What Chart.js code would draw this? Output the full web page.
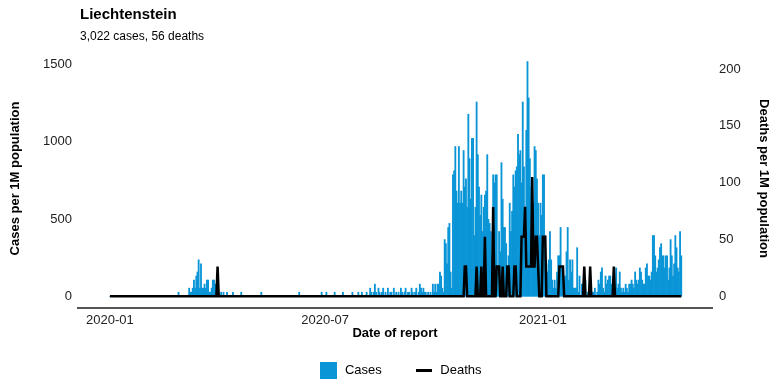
<!DOCTYPE html>
<html>
<head>
<meta charset="utf-8">
<script src="https://cdn.jsdelivr.net/npm/chart.js@4.4.1/dist/chart.umd.min.js"></script>
<style>
  html, body { margin: 0; padding: 0; background: #fff; }
</style>
</head>
<body>
<canvas id="myChart" width="784" height="392"></canvas>
<script>
// daily counts for Liechtenstein, first entry = 2020-01-01
const titleText = 'Liechtenstein';
const subtitleText = '3,022 cases, 56 deaths';
const population = 38137;

const dailyCases = [
  // 2020-01
  0,0,0,0,0,0,0,0,0,0, 0,0,0,0,0,0,0,0,0,0, 0,0,0,0,0,0,0,0,0,0, 0,
  // 2020-02
  0,0,0,0,0,0,0,0,0,0, 0,0,0,0,0,0,0,0,0,0, 0,0,0,0,0,0,0,1,0,
  // 2020-03
  0,0,0,0,0,0,0,2,1,1, 2,4,2,5,6,9,2,8,2,2, 3,2,4,4,1,1,2,4,4,3, 0,
  // 2020-04
  0,0,0,1,0,1,0,0,1,0, 0,0,0,1,0,0,0,0,0,0, 1,0,0,0,0,0,0,0,0,0,
  // 2020-05
  0,0,0,0,0,0,0,1,0,0, 0,0,0,0,0,0,0,0,0,0, 0,0,0,0,0,0,0,0,0,0, 0,
  // 2020-06
  0,0,0,0,0,0,0,0,1,0, 0,0,0,0,0,0,0,0,0,0, 0,0,0,0,0,0,0,1,0,0,
  // 2020-07
  0,1,0,0,0,0,0,0,1,0, 0,0,0,0,0,1,0,0,0,0, 0,0,0,1,0,0,0,0,1,0, 0,
  // 2020-08
  1,0,0,0,1,0,0,2,1,0, 1,3,1,0,2,1,0,1,2,0, 1,0,2,0,1,1,0,2,0,1, 0,
  // 2020-09
  1,0,2,1,0,1,2,0,1,1, 0,2,1,0,1,2,0,1,3,2, 1,2,1,1,0,1,0,1,0,3,
  // 2020-10
  1,3,1,3,3,6,5,2,1,14, 13,8,17,18,6,2,30,31,37,26, 23,37,23,26,23,36,27,29,22,45, 34,
  // 2020-11
  24,39,39,15,22,48,35,27,20,25, 16,22,25,26,35,19,18,16,10,30, 28,30,30,7,16,11,33,24,17,17,
  // 2020-12
  13,6,10,23,16,21,30,27,31,32, 40,35,36,28,48,32,22,41,58,49, 34,27,14,23,37,36,29,23,15,23, 20,
  // 2021-01
  30,30,15,8,6,9,16,9,4,2, 4,2,6,10,10,17,7,6,4,5, 11,17,4,9,6,9,2,2,2,12, 1,
  // 2021-02
  5,0,3,3,7,4,0,1,1,0, 1,1,1,2,0,1,4,3,6,7, 2,1,5,3,4,5,5,3,
  // 2021-03
  2,0,1,7,2,3,6,2,1,2, 1,3,2,1,3,3,4,3,2,6, 4,3,4,7,6,4,3,3,7,8, 5,
  // 2021-04 (to the 28th)
  5,4,6,15,15,10,6,7,9,12, 13,10,10,7,10,10,4,7,14,10, 5,8,15,12,7,6,16,10
];

const dailyDeaths = [
  // 2020-01
  0,0,0,0,0,0,0,0,0,0, 0,0,0,0,0,0,0,0,0,0, 0,0,0,0,0,0,0,0,0,0, 0,
  // 2020-02
  0,0,0,0,0,0,0,0,0,0, 0,0,0,0,0,0,0,0,0,0, 0,0,0,0,0,0,0,0,0,
  // 2020-03
  0,0,0,0,0,0,0,0,0,0, 0,0,0,0,0,0,0,0,0,0, 0,0,0,0,0,0,0,0,0,0, 0,
  // 2020-04
  1,0,0,0,0,0,0,0,0,0, 0,0,0,0,0,0,0,0,0,0, 0,0,0,0,0,0,0,0,0,0,
  // 2020-05
  0,0,0,0,0,0,0,0,0,0, 0,0,0,0,0,0,0,0,0,0, 0,0,0,0,0,0,0,0,0,0, 0,
  // 2020-06
  0,0,0,0,0,0,0,0,0,0, 0,0,0,0,0,0,0,0,0,0, 0,0,0,0,0,0,0,0,0,0,
  // 2020-07
  0,0,0,0,0,0,0,0,0,0, 0,0,0,0,0,0,0,0,0,0, 0,0,0,0,0,0,0,0,0,0, 0,
  // 2020-08
  0,0,0,0,0,0,0,0,0,0, 0,0,0,0,0,0,0,0,0,0, 0,0,0,0,0,0,0,0,0,0, 0,
  // 2020-09
  0,0,0,0,0,0,0,0,0,0, 0,0,0,0,0,0,0,0,0,0, 0,0,0,0,0,0,0,0,0,0,
  // 2020-10
  0,0,0,0,0,0,0,0,0,0, 0,0,0,0,0,0,0,0,0,0, 0,0,0,0,0,0,1,1,0,0, 0,
  // 2020-11
  0,0,0,0,0,1,0,0,0,1, 0,0,2,0,0,0,0,0,0,3, 0,0,1,1,1,0,0,1,0,0,
  // 2020-12
  0,1,1,0,0,0,0,1,1,0, 0,0,0,2,2,2,3,1,1,1, 1,1,4,1,1,2,2,1,0,0, 0,
  // 2021-01
  2,2,2,0,0,0,0,0,0,0, 0,0,0,0,1,1,1,1,0,0, 0,0,0,0,0,0,0,0,0,0, 0,
  // 2021-02
  0,0,0,0,1,0,0,0,0,1, 0,0,0,0,0,0,0,0,0,0, 0,0,0,0,0,0,0,0,
  // 2021-03
  0,1,0,0,0,0,0,0,0,0, 0,0,0,0,0,0,0,0,0,0, 0,0,0,0,0,0,0,0,0,0, 0,
  // 2021-04
  0,0,0,0,0,0,0,0,0,0, 0,0,0,0,0,0,0,0,0,0, 0,0,0,0,0,0,0,0
];

// x axis is "days since 2020-01-01"
const tickDays = [0, 182, 366];
const tickLabels = ['2020-01', '2020-07', '2021-01'];
const casesTicks = [0, 500, 1000, 1500];
const deathsTicks = [0, 50, 100, 150, 200];

const perMillion = (arr) => arr.map((n, i) => ({ x: i, y: n * 1e6 / population }));

const fontFamily = '"Liberation Sans", Arial, Helvetica, sans-serif';
Chart.defaults.font.family = fontFamily;
Chart.defaults.color = '#222';

const casesColor = '#0a95d7';

// legend swatches
const caseSwatch = document.createElement('canvas');
caseSwatch.width = 17; caseSwatch.height = 17;
caseSwatch.getContext('2d').fillStyle = casesColor;
caseSwatch.getContext('2d').fillRect(0, 0, 17, 17);
const deathSwatch = document.createElement('canvas');
deathSwatch.width = 16; deathSwatch.height = 3;
deathSwatch.getContext('2d').fillRect(0, 0, 16, 3);

const headerPlugin = {
  id: 'header',
  afterDraw(chart) {
    const ctx = chart.ctx;
    ctx.save();
    ctx.fillStyle = '#000';
    ctx.textAlign = 'left';
    ctx.textBaseline = 'alphabetic';
    ctx.font = 'bold 15px ' + fontFamily;
    ctx.fillText(titleText, 80, 19);
    ctx.font = '12px ' + fontFamily;
    ctx.fillText(subtitleText, 80, 40);
    ctx.restore();
  }
};

const data = {
  datasets: [
    {
      type: 'bar',
      label: 'Cases',
      data: perMillion(dailyCases),
      yAxisID: 'y',
      backgroundColor: casesColor,
      borderWidth: 0,
      barPercentage: 1,
      categoryPercentage: 1,
      grouped: false,
      order: 1
    },
    {
      type: 'line',
      label: 'Deaths',
      data: perMillion(dailyDeaths),
      yAxisID: 'y2',
      borderColor: '#000',
      borderWidth: 2.5,
      pointRadius: 0,
      tension: 0,
      order: 0
    }
  ]
};

const config = {
  type: 'bar',
  data: data,
  plugins: [headerPlugin],
  options: {
    responsive: false,
    animation: false,
    devicePixelRatio: 1,
    layout: { padding: { top: 49, left: 16, right: 0, bottom: 5.5 } },
    plugins: {
      tooltip: { enabled: false },
      legend: {
        position: 'bottom',
        labels: {
          usePointStyle: true,
          pointStyleWidth: 20,
          padding: 32,
          color: '#000',
          font: { size: 13 },
          generateLabels: (chart) => chart.data.datasets.map((ds, i) => ({
            text: ds.label,
            datasetIndex: i,
            pointStyle: i === 0 ? caseSwatch : deathSwatch,
            fillStyle: i === 0 ? casesColor : '#000',
            strokeStyle: i === 0 ? casesColor : '#000',
            lineWidth: 0,
            hidden: false
          }))
        }
      }
    },
    scales: {
      x: {
        type: 'linear',
        min: -27,
        max: 509,
        offset: false,
        afterBuildTicks: (s) => { s.ticks = tickDays.map(v => ({ value: v })); },
        afterFit: (s) => { s.height = 23.5; },
        ticks: {
          autoSkip: false,
          maxRotation: 0,
          padding: 5,
          font: { size: 13 },
          callback: (v) => tickLabels[tickDays.indexOf(v)]
        },
        grid: { display: false, drawTicks: false },
        border: { display: true, color: '#555', width: 2 },
        title: {
          display: true,
          text: 'Date of report',
          color: '#000',
          font: { size: 13, weight: 'bold' },
          padding: { top: 0, bottom: -9.3 }
        }
      },
      y: {
        position: 'left',
        min: -76,
        max: 1602,
        afterBuildTicks: (s) => { s.ticks = casesTicks.map(v => ({ value: v })); },
        afterFit: (s) => { s.width = 62; },
        ticks: { padding: 6, font: { size: 13 }, callback: (v) => String(v) },
        grid: { display: false, drawTicks: false },
        border: { display: false },
        title: {
          display: true,
          text: 'Cases per 1M population',
          color: '#000',
          font: { size: 13, weight: 'bold' },
          padding: { top: -8.5, bottom: 0 }
        }
      },
      y2: {
        position: 'right',
        min: -10.3,
        max: 217.6,
        afterBuildTicks: (s) => { s.ticks = deathsTicks.map(v => ({ value: v })); },
        afterFit: (s) => { s.width = 72; },
        ticks: { padding: 7, font: { size: 13 }, callback: (v) => String(v) },
        grid: { display: false, drawTicks: false },
        border: { display: false },
        title: {
          display: true,
          text: 'Deaths per 1M population',
          color: '#000',
          font: { size: 13, weight: 'bold' },
          padding: { top: 12.2, bottom: 0 }
        }
      }
    }
  }
};

const ctx = document.getElementById('myChart').getContext('2d');
new Chart(ctx, config);
</script>
</body>
</html>
